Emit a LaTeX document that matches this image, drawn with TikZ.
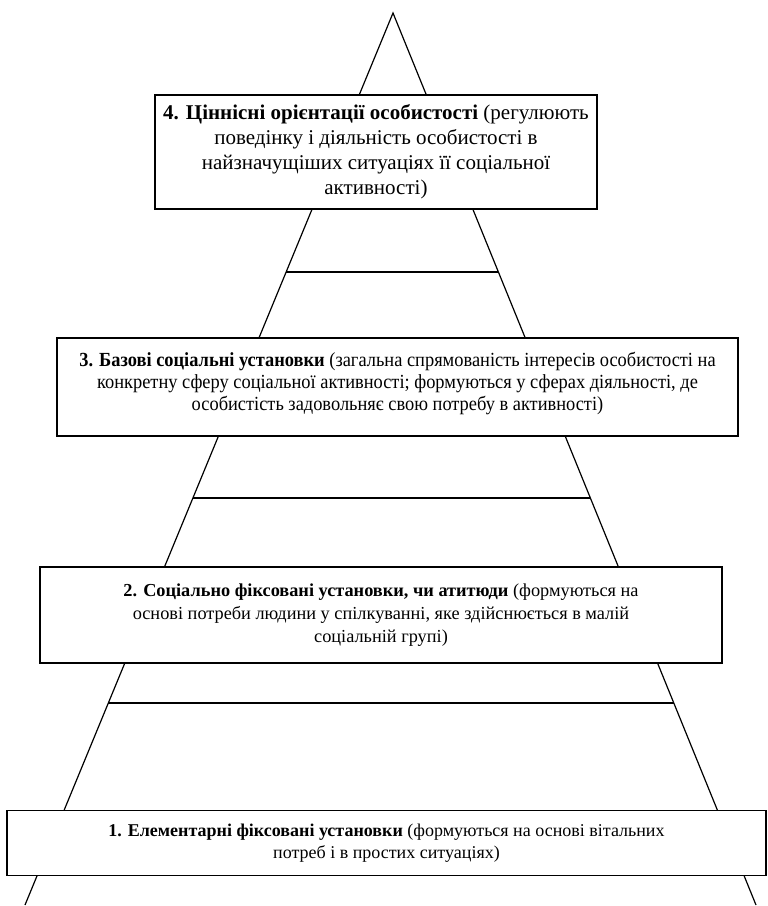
\documentclass[tikz,border=0pt]{standalone}
\usepackage{fontspec}
\setmainfont{Liberation Serif}
\usetikzlibrary{calc}

\tikzset{
  levelbox/.style={draw, fill=white, line width=1.3pt, align=center, inner sep=0pt},
  edge/.style={line width=1.2pt},
}

\begin{document}
\begin{tikzpicture}[x=1pt,y=-1pt]
\useasboundingbox (0,0) rectangle (768,906);
% pyramid outline:
\coordinate (apex) at (393,13);
\coordinate (baseL) at (25,905);
\coordinate (baseR) at (756,905);
\draw[edge] (baseL) -- (apex) -- (baseR);
% steps between the levels:
\foreach \t [count=\i] in {0.2904,0.5437,0.7735}{
  \coordinate (stepL\i) at ($(apex)!\t!(baseL)$);
  \coordinate (stepR\i) at ($(apex)!\t!(baseR)$);
  \draw[edge] (stepL\i) -- (stepR\i);
}
% levels, top down:
\node[levelbox, minimum width=442pt, minimum height=114pt,
  font=\fontsize{21}{25}\selectfont] (lvl4) at (376,152)
  {\textbf{4. Ціннісні орієнтації особистості} (регулюють\\
   поведінку і діяльність особистості в\\
   найзначущіших ситуаціях її соціальної\\
   активності)};
\node[levelbox, minimum width=681pt, minimum height=98pt,
  font=\fontsize{20}{22}\selectfont\addfontfeature{FakeStretch=0.92}] (lvl3) at (397.5,387)
  {\textbf{3. Базові соціальні установки} (загальна спрямованість інтересів особистості на\\
   конкретну сферу соціальної активності; формуються у сферах діяльності, де\\
   особистість задовольняє свою потребу в активності)\\[-10pt]\mbox{}};
\node[levelbox, minimum width=682pt, minimum height=96pt,
  font=\fontsize{18.3}{23}\selectfont] (lvl2) at (381,615)
  {\textbf{2. Соціально фіксовані установки, чи атитюди} (формуються на\\
   основі потреби людини у спілкуванні, яке здійснюється в малій\\
   соціальній групі)};
\node[levelbox, minimum width=759pt, minimum height=65pt,
  font=\fontsize{18}{22}\selectfont] (lvl1) at (386.5,843)
  {\textbf{1. Елементарні фіксовані установки} (формуються на основі вітальних\\
   потреб і в простих ситуаціях)};
\end{tikzpicture}
\end{document}
